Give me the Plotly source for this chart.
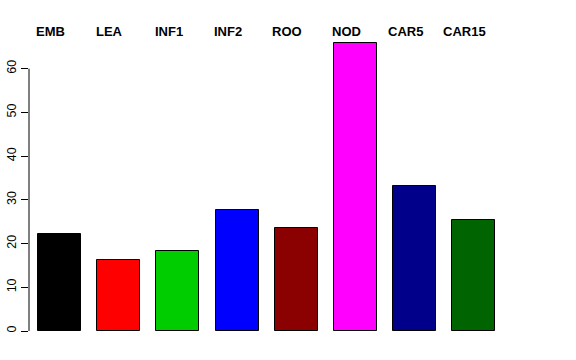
import plotly.graph_objects as go

categories = ["EMB", "LEA", "INF1", "INF2", "ROO", "NOD", "CAR5", "CAR15"]
values = [22.1, 16.2, 18.4, 27.6, 23.5, 65.9, 33.1, 25.5]
colors = ["#000000", "#FF0000", "#00CD00", "#0000FF", "#8B0000", "#FF00FF", "#00008B", "#006400"]
y_ticks = [0, 10, 20, 30, 40, 50, 60]

positions = list(range(1, len(categories) + 1))

fig = go.Figure()
fig.add_trace(go.Bar(
    x=positions, y=values, width=0.726,
    marker=dict(color=colors, line=dict(color="#000000", width=1)),
    showlegend=False, hoverinfo="skip",
))

for p, name in zip(positions, categories):
    fig.add_annotation(
        x=p - 0.15, xref="x", y=68.6, yref="y", text="<b>%s</b>" % name,
        showarrow=False, xanchor="center", yanchor="middle",
        font=dict(family="Liberation Sans, Arial, sans-serif", size=13, color="#000000"),
    )

# R-style axis line spanning only the tick range
fig.add_shape(type="line", xref="paper", yref="y", x0=0, x1=0,
              y0=min(y_ticks), y1=max(y_ticks), line=dict(color="#000000", width=1))

fig.update_layout(
    width=576, height=360,
    margin=dict(l=29, r=43, t=25, b=29, pad=0, autoexpand=False),
    plot_bgcolor="#FFFFFF", paper_bgcolor="#FFFFFF",
    bargap=0,
    xaxis=dict(range=[0.485, 9.0], showgrid=False, zeroline=False, showline=False,
               showticklabels=False, ticks="", automargin=False),
    yaxis=dict(range=[0, 70], showgrid=False, zeroline=False, showline=False,
               tickvals=y_ticks, ticktext=[str(v) for v in y_ticks],
               ticks="outside", ticklen=7, tickcolor="#000000", tickwidth=1,
               tickangle=-90, automargin=False,
               tickfont=dict(family="Liberation Sans, Arial, sans-serif", size=12.5, color="#000000")),
)

fig.write_html("out.html", config={"displayModeBar": False},
               post_script="document.body.style.margin='0';document.body.style.overflow='hidden';")
